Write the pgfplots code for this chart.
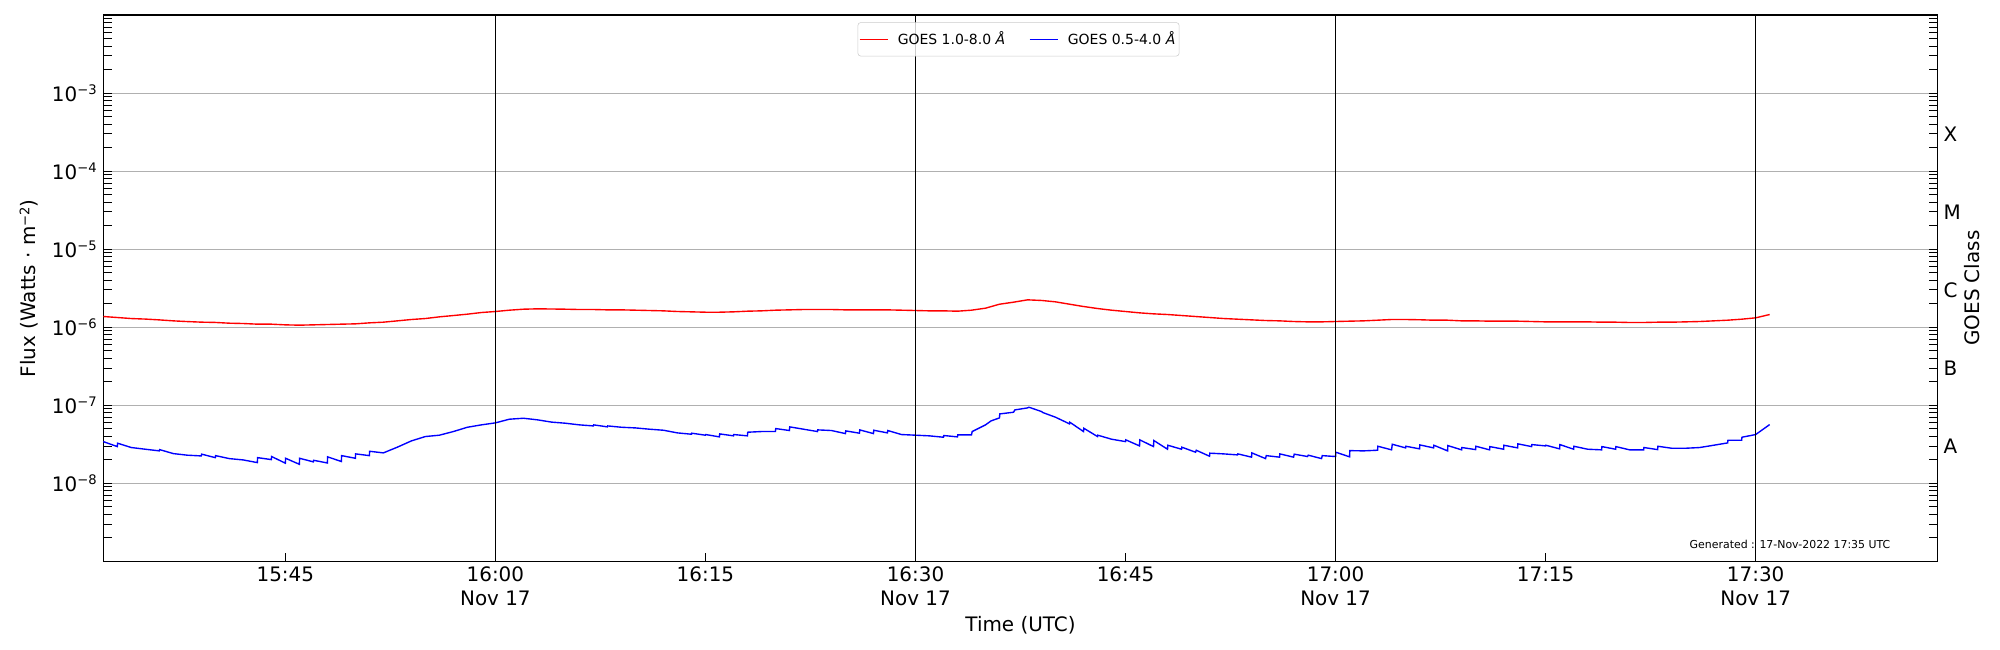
\documentclass[border=0pt]{standalone}
\usepackage{fontspec}
\setmainfont{DejaVu Sans}
\usepackage{pgfplots}
\pgfplotsset{compat=1.18}
\usepackage{pgfplotstable}

\newcommand{\sups}[1]{\raisebox{4.8pt}{\fontsize{9.5}{10}\selectfont #1}}

% GOES 1.0-8.0 A (minutes after 15:00 UTC, flux W m^-2)
\pgfplotstableread{
m flux
32 1.37e-6
33 1.33e-6
34 1.29e-6
35 1.27e-6
36 1.24e-6
37 1.205e-6
38 1.18e-6
39 1.16e-6
40 1.15e-6
41 1.125e-6
42 1.114e-6
43 1.093e-6
44 1.093e-6
45 1.071e-6
46 1.061e-6
47 1.071e-6
48 1.082e-6
49 1.093e-6
50 1.103e-6
51 1.136e-6
52 1.159e-6
53 1.205e-6
54 1.254e-6
55 1.291e-6
56 1.356e-6
57 1.41e-6
58 1.468e-6
59 1.541e-6
60 1.588e-6
61 1.651e-6
62 1.70e-6
63 1.718e-6
64 1.71e-6
65 1.70e-6
66 1.684e-6
67 1.684e-6
68 1.667e-6
69 1.667e-6
70 1.651e-6
71 1.635e-6
72 1.619e-6
73 1.588e-6
74 1.572e-6
75 1.556e-6
76 1.556e-6
77 1.572e-6
78 1.603e-6
79 1.619e-6
80 1.651e-6
81 1.667e-6
82 1.684e-6
83 1.684e-6
84 1.684e-6
85 1.667e-6
86 1.667e-6
87 1.667e-6
88 1.667e-6
89 1.651e-6
90 1.635e-6
91 1.619e-6
92 1.619e-6
93 1.603e-6
94 1.651e-6
95 1.751e-6
96 1.97e-6
97 2.09e-6
98 2.24e-6
99 2.20e-6
100 2.112e-6
101 1.97e-6
102 1.84e-6
103 1.734e-6
104 1.651e-6
105 1.588e-6
106 1.526e-6
107 1.482e-6
108 1.453e-6
109 1.411e-6
110 1.37e-6
111 1.33e-6
112 1.291e-6
113 1.266e-6
114 1.241e-6
115 1.217e-6
116 1.205e-6
117 1.182e-6
118 1.170e-6
119 1.170e-6
120 1.182e-6
121 1.194e-6
122 1.205e-6
123 1.229e-6
124 1.254e-6
125 1.254e-6
126 1.245e-6
127 1.229e-6
128 1.229e-6
129 1.205e-6
130 1.205e-6
131 1.194e-6
132 1.194e-6
133 1.194e-6
134 1.182e-6
135 1.170e-6
136 1.170e-6
137 1.170e-6
138 1.170e-6
139 1.159e-6
140 1.159e-6
141 1.148e-6
142 1.148e-6
143 1.159e-6
144 1.159e-6
145 1.170e-6
146 1.182e-6
147 1.205e-6
148 1.229e-6
149 1.266e-6
150 1.317e-6
151 1.453e-6
}\longtab

% GOES 0.5-4.0 A
\pgfplotstableread{
m flux
32 3.42e-8
33 2.95e-8
33.02 3.26e-8
34 2.87e-8
35 2.73e-8
36 2.60e-8
36.02 2.70e-8
37 2.40e-8
38 2.29e-8
39 2.24e-8
39.02 2.36e-8
40 2.13e-8
40.02 2.26e-8
41 2.07e-8
42 1.99e-8
43 1.84e-8
43.02 2.13e-8
44 2.01e-8
44.02 2.20e-8
45 1.81e-8
45.02 2.09e-8
46 1.75e-8
46.02 2.09e-8
47 1.88e-8
47.02 1.97e-8
48 1.82e-8
48.02 2.18e-8
49 1.90e-8
49.02 2.26e-8
50 2.09e-8
50.02 2.38e-8
51 2.26e-8
51.02 2.57e-8
52 2.45e-8
53 2.90e-8
54 3.49e-8
55 3.97e-8
56 4.13e-8
57 4.60e-8
58 5.22e-8
59 5.60e-8
60 5.94e-8
61 6.62e-8
62 6.81e-8
63 6.50e-8
64 6.08e-8
65 5.88e-8
66 5.60e-8
67 5.43e-8
67.02 5.60e-8
68 5.28e-8
68.02 5.43e-8
69 5.22e-8
70 5.12e-8
71 4.93e-8
72 4.78e-8
73 4.42e-8
74 4.25e-8
74.02 4.38e-8
75 4.13e-8
75.02 4.21e-8
76 3.93e-8
76.02 4.29e-8
77 4.05e-8
77.02 4.21e-8
78 4.05e-8
78.02 4.51e-8
79 4.60e-8
80 4.60e-8
80.02 5.02e-8
81 4.74e-8
81.02 5.28e-8
82 4.93e-8
83 4.60e-8
83.02 4.83e-8
84 4.74e-8
85 4.33e-8
85.02 4.69e-8
86 4.38e-8
86.02 4.83e-8
87 4.33e-8
87.02 4.78e-8
88 4.42e-8
88.02 4.74e-8
89 4.21e-8
90 4.13e-8
91 4.05e-8
92 3.89e-8
92.02 4.09e-8
93 3.93e-8
93.02 4.17e-8
94 4.17e-8
94.05 4.60e-8
95 5.60e-8
95.4 6.30e-8
96 6.88e-8
96.02 7.74e-8
97 8.13e-8
97.1 8.71e-8
98 9.24e-8
98.1 9.43e-8
99 8.30e-8
99.1 8.05e-8
100 7.02e-8
101 5.77e-8
101.02 6.06e-8
102 4.60e-8
102.02 5.07e-8
103 3.97e-8
103.02 4.13e-8
104 3.67e-8
105 3.42e-8
105.02 3.60e-8
106 3.01e-8
106.02 3.60e-8
107 2.95e-8
107.02 3.53e-8
108 2.73e-8
108.02 3.07e-8
109 2.73e-8
109.02 2.90e-8
110 2.50e-8
110.05 2.65e-8
111 2.22e-8
111.02 2.43e-8
112 2.38e-8
113 2.31e-8
113.02 2.38e-8
114 2.16e-8
114.02 2.45e-8
115 2.07e-8
115.05 2.26e-8
116 2.16e-8
116.02 2.38e-8
117 2.16e-8
117.05 2.36e-8
118 2.20e-8
118.05 2.29e-8
119 2.07e-8
119.05 2.26e-8
120 2.20e-8
120.02 2.50e-8
121 2.18e-8
121.02 2.62e-8
122 2.60e-8
123 2.65e-8
123.02 2.98e-8
124 2.68e-8
124.05 3.16e-8
125 2.84e-8
125.02 2.98e-8
126 2.76e-8
126.02 3.10e-8
127 2.84e-8
127.02 3.07e-8
128 2.60e-8
128.02 3.04e-8
129 2.68e-8
129.02 2.87e-8
130 2.70e-8
130.02 2.98e-8
131 2.68e-8
131.02 2.95e-8
132 2.73e-8
132.02 3.07e-8
133 2.84e-8
133.02 3.20e-8
134 2.95e-8
134.02 3.13e-8
135 3.01e-8
135.02 3.07e-8
136 2.76e-8
136.02 3.13e-8
137 2.73e-8
137.02 2.98e-8
138 2.73e-8
139 2.68e-8
139.02 2.95e-8
140 2.73e-8
140.02 2.95e-8
141 2.68e-8
142 2.68e-8
142.02 2.87e-8
143 2.70e-8
143.02 2.98e-8
144 2.81e-8
145 2.81e-8
146 2.87e-8
147 3.07e-8
148 3.29e-8
148.02 3.56e-8
149 3.56e-8
149.02 3.89e-8
150 4.21e-8
151 5.65e-8
}\shorttab

\begin{document}
\fontsize{14.4}{16.8}\selectfont
\begin{tikzpicture}
\path[use as bounding box] (-1.033in,-0.887in) rectangle (18.967in,5.613in);
\begin{axis}[
  at={(0,0)}, anchor=south west,
  scale only axis, width=18.344in, height=5.463in,
  clip=false,
  xmin=32, xmax=163,
  ymode=log, ymin=1e-9, ymax=1e-2,
  xtick={45,60,75,90,105,120,135,150},
  xticklabels={15:45,{16:00\\Nov 17},16:15,{16:30\\Nov 17},16:45,{17:00\\Nov 17},17:15,{17:30\\Nov 17}},
  xticklabel style={align=center, inner sep=0pt, anchor=north, yshift=-0.054in},
  xtick pos=bottom,
  ytick={1e-8,1e-7,1e-6,1e-5,1e-4,1e-3},
  yticklabels={10\sups{−8},10\sups{−7},10\sups{−6},10\sups{−5},10\sups{−4},10\sups{−3}},
  yticklabel style={inner sep=0pt, anchor=east, xshift=-0.063in},
  minor ytick={2e-9,3e-9,4e-9,5e-9,6e-9,7e-9,8e-9,9e-9,
               2e-8,3e-8,4e-8,5e-8,6e-8,7e-8,8e-8,9e-8,
               2e-7,3e-7,4e-7,5e-7,6e-7,7e-7,8e-7,9e-7,
               2e-6,3e-6,4e-6,5e-6,6e-6,7e-6,8e-6,9e-6,
               2e-5,3e-5,4e-5,5e-5,6e-5,7e-5,8e-5,9e-5,
               2e-4,3e-4,4e-4,5e-4,6e-4,7e-4,8e-4,9e-4,
               2e-3,3e-3,4e-3,5e-3,6e-3,7e-3,8e-3,9e-3},
  ytick pos=both,
  tick align=inside,
  major tick length=0.083in, minor tick length=0.083in,
  every tick/.style={black, line width=0.7pt},
  ymajorgrids,
  grid style={color=black!31, line width=0.7pt},
  axis line style={line width=0.9pt},
  xlabel={Time (UTC)},
  xlabel style={at={(axis description cs:0.5,-0.1276)}, anchor=base, inner sep=0pt},
  ylabel={Flux (Watts · m\sups{−2})},
  ylabel style={at={(axis description cs:-0.0405,0.5)}, anchor=center, inner sep=0pt},
  legend columns=2,
  legend cell align=left,
  legend image code/.code={\draw[#1] (0in,0in) -- (0.287in,0in);},
  legend style={at={(0.5,1)}, anchor=north, yshift=-0.073in, xshift=-0.02in,
    draw=black!20, fill=white, fill opacity=0.8, draw opacity=1, text opacity=1,
    rounded corners=2pt, font=\fontsize{10.1}{12.1}\selectfont,
    inner xsep=0.01in, inner ysep=0.06in,
    /tikz/column 1/.style={column sep=0.06in},
    /tikz/column 2/.style={column sep=0.21in},
    /tikz/column 3/.style={column sep=0.06in},
    /tikz/column 4/.style={column sep=0pt}},
]
\addplot[red, line width=1pt] table[x=m, y=flux] {\longtab};
\addlegendentry{GOES 1.0-8.0 \textit{Å}}
\addplot[blue, line width=1pt] table[x=m, y=flux] {\shorttab};
\addlegendentry{GOES 0.5-4.0 \textit{Å}}
\addplot[black, line width=0.8pt, forget plot] coordinates {(60,1e-9) (60,1e-2)};
\addplot[black, line width=0.8pt, forget plot] coordinates {(90,1e-9) (90,1e-2)};
\addplot[black, line width=0.8pt, forget plot] coordinates {(120,1e-9) (120,1e-2)};
\addplot[black, line width=0.8pt, forget plot] coordinates {(150,1e-9) (150,1e-2)};
\node[font=\fontsize{7.9}{9}\selectfont, anchor=center] at (rel axis cs:0.9195,0.0317) {Generated : 17-Nov-2022 17:35 UTC};
\node[rotate=90, anchor=center] at (rel axis cs:1.0185,0.5) {GOES Class};
\end{axis}
\begin{axis}[
  at={(0,0)}, anchor=south west,
  scale only axis, width=18.344in, height=5.463in,
  xmin=32, xmax=163,
  ymode=log, ymin=1e-9, ymax=1e-2,
  hide x axis,
  axis y line*=right,
  ytick={3.162e-8,3.162e-7,3.162e-6,3.162e-5,3.162e-4},
  yticklabels={A,B,C,M,X},
  minor ytick={},
  ytick style={draw=none},
  yticklabel style={inner sep=0pt, anchor=west, xshift=0.056in, yshift=-0.02in},
  axis line style={line width=0.9pt},
]
\end{axis}
\end{tikzpicture}
\end{document}
